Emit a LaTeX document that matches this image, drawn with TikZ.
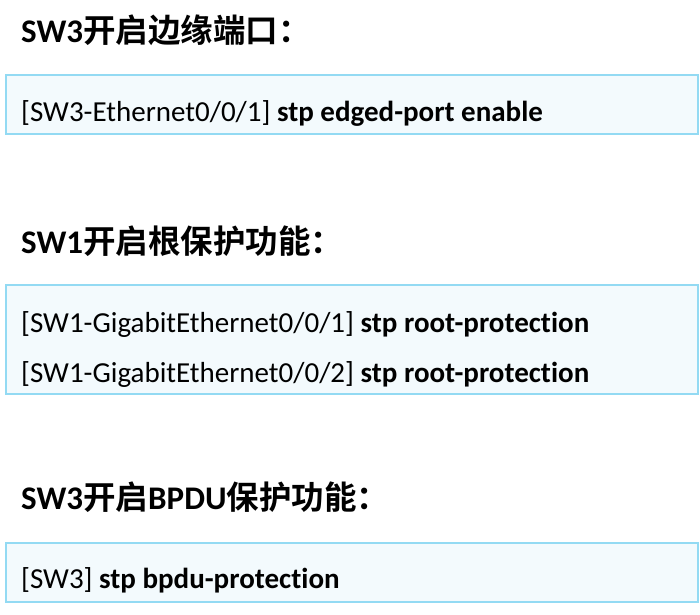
\documentclass[tikz,border=0pt]{standalone}
\usepackage{fontspec}
\setmainfont{Carlito}[Ligatures={NoCommon}]
\newfontfamily\cjkfont{Noto Sans CJK SC}[BoldFont={Noto Sans CJK SC Bold}]
\newcommand{\cjkh}[1]{{\fontsize{32.5}{36}\selectfont\cjkfont\bfseries #1}}
\definecolor{boxline}{HTML}{93DAF3}
\definecolor{boxfill}{HTML}{F3FAFD}
\tikzset{
  cmdbox/.style={draw=boxline, fill=boxfill, line width=2pt},
  heading/.style={anchor=base west, inner sep=0pt, font=\fontsize{33}{36}\selectfont\bfseries},
  cmdline/.style={anchor=base west, inner sep=0pt, font=\fontsize{29}{34}\selectfont},
}
\begin{document}
\begin{tikzpicture}[x=1pt,y=-1pt]
\useasboundingbox (0,0) rectangle (700,614);
% boxes
\draw[cmdbox] (6,75) rectangle (698,134);
\draw[cmdbox] (6,285) rectangle (698,394);
\draw[cmdbox] (6,543) rectangle (698,602);
% headings
\node[heading] (h1) at (21,42) {SW3\cjkh{开启边缘端口：}};
\node[heading] (h2) at (21,253) {SW1\cjkh{开启根保护功能：}};
\node[heading] (h3) at (21,509) {SW3\cjkh{开启}BPDU\cjkh{保护功能：}};
% commands
\node[cmdline] (c1) at (21,121) {[SW3-Ethernet0/0/1] \textbf{stp edged-port enable}};
\node[cmdline] (c2) at (21,332) {[SW1-GigabitEthernet0/0/1] \textbf{stp root-protection}};
\node[cmdline] (c3) at (21,382) {[SW1-GigabitEthernet0/0/2] \textbf{stp root-protection}};
\node[cmdline] (c4) at (21,588) {[SW3] \textbf{stp bpdu-protection}};
\end{tikzpicture}
\end{document}
